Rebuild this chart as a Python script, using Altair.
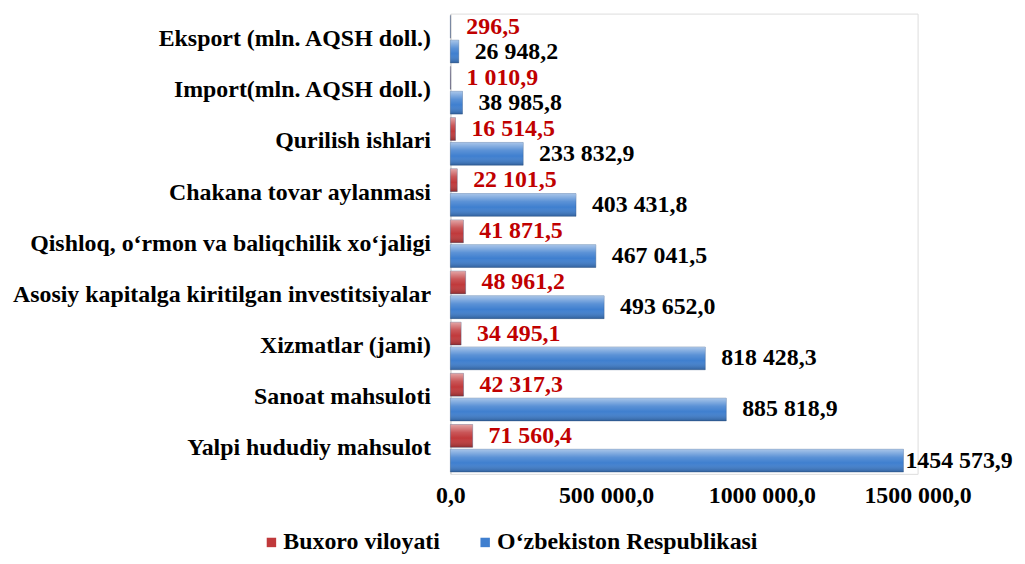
import altair as alt
import pandas as pd

categories = [
    "Eksport (mln. AQSH doll.)",
    "Import(mln. AQSH doll.)",
    "Qurilish ishlari",
    "Chakana tovar aylanmasi",
    "Qishloq, o‘rmon va baliqchilik xo‘jaligi",
    "Asosiy kapitalga kiritilgan investitsiyalar",
    "Xizmatlar (jami)",
    "Sanoat mahsuloti",
    "Yalpi hududiy mahsulot",
]
series_names = ["Buxoro viloyati", "O‘zbekiston Respublikasi"]
buxoro = [296.5, 1010.9, 16514.5, 22101.5, 41871.5, 48961.2, 34495.1, 42317.3, 71560.4]
uzb = [26948.2, 38985.8, 233832.9, 403431.8, 467041.5, 493652.0, 818428.3, 885818.9, 1454573.9]
tick_values = [0, 500000, 1000000, 1500000]
tick_labels = ["0,0", "500 000,0", "1000 000,0", "1500 000,0"]


def fmt(v):
    s = f"{v:.1f}"
    ip, dp = s.split(".")
    if len(ip) > 3:
        ip = ip[:-3] + " " + ip[-3:]
    return ip + "," + dp


rows = []
for c, a, b in zip(categories, buxoro, uzb):
    rows.append({"cat": c, "series": series_names[0], "value": a, "label": fmt(a)})
    rows.append({"cat": c, "series": series_names[1], "value": b, "label": fmt(b)})
df = pd.DataFrame(rows)

FONT = "Liberation Serif"
FS = 24

label_expr = "''"
for v, t in reversed(list(zip(tick_values, tick_labels))):
    label_expr = f"datum.value == {v} ? '{t}' : ({label_expr})"

y_enc = alt.Y(
    "cat:N",
    sort=categories,
    title=None,
    scale=alt.Scale(paddingInner=0.07, paddingOuter=0.035),
    axis=alt.Axis(
        labelFont=FONT, labelFontSize=FS, labelFontWeight="bold", labelColor="#000000",
        labelPadding=20, labelLimit=600, ticks=False, domain=True, domainColor="#d9d9d9",
        domainWidth=1.5,
    ),
)
yoff = alt.YOffset("series:N", sort=series_names, scale=alt.Scale(paddingInner=0.08))
x_enc = alt.X(
    "value:Q",
    title=None,
    scale=alt.Scale(domain=[0, 1500000], nice=False),
    axis=alt.Axis(
        values=tick_values, labelExpr=label_expr, labelFont=FONT, labelFontSize=FS,
        labelFontWeight="bold", labelColor="#000000", labelPadding=10,
        domain=False, ticks=False, grid=False, labelFlush=False,
    ),
)

bars = alt.Chart(df).mark_bar(stroke="#2a4f7f", strokeWidth=0.6, strokeOpacity=0.6).encode(
    y=y_enc,
    yOffset=yoff,
    x=x_enc,
    color=alt.Color(
        "series:N",
        sort=series_names,
        scale=alt.Scale(domain=series_names, range=["#c0393b", "#3f7fcf"]),
        legend=alt.Legend(
            title=None, orient="none", direction="horizontal", legendX=-192, legendY=520,
            labelFont=FONT, labelFontSize=FS, labelFontWeight="bold", labelColor="#000000",
            symbolType="square", symbolSize=90, symbolStrokeWidth=0, columnPadding=33,
            labelOffset=0, labelLimit=600,
        ),
    ),
)

sheen = alt.Chart(df).mark_bar(
    fill=alt.Gradient(
        gradient="linear",
        stops=[
            alt.GradientStop(color="rgba(255,255,255,0.55)", offset=0),
            alt.GradientStop(color="rgba(255,255,255,0.15)", offset=0.35),
            alt.GradientStop(color="rgba(255,255,255,0)", offset=0.6),
            alt.GradientStop(color="rgba(0,0,0,0.25)", offset=1),
        ],
        x1=0, x2=0, y1=0, y2=1,
    )
).encode(y=alt.Y("cat:N", sort=categories), yOffset=yoff, x="value:Q")

text_base = alt.Chart(df).encode(
    y=alt.Y("cat:N", sort=categories),
    yOffset=yoff,
    x="value:Q",
    text="label:N",
    color=alt.Color("series:N", sort=series_names,
                    scale=alt.Scale(domain=series_names, range=["#c00000", "#000000"]),
                    legend=None),
)
text_main = text_base.mark_text(
    align="left", baseline="middle", dx=16, font=FONT, fontSize=FS, fontWeight="bold"
).transform_filter("datum.value < 1400000")
text_big = text_base.mark_text(
    align="left", baseline="middle", dx=2, font=FONT, fontSize=FS, fontWeight="bold"
).transform_filter("datum.value >= 1400000")

chart = (
    alt.layer(bars, sheen, text_main, text_big)
    .resolve_scale(color="independent")
    .properties(
        width=470,
        height=463,
        autosize=alt.AutoSizeParams(type="none"),
        padding={"left": 445, "top": 4, "right": 100, "bottom": 81},
    )
    .configure_view(stroke=None)
    .configure(background="white")
)

chart.save("out.html", embed_options={"renderer": "svg", "actions": False})
